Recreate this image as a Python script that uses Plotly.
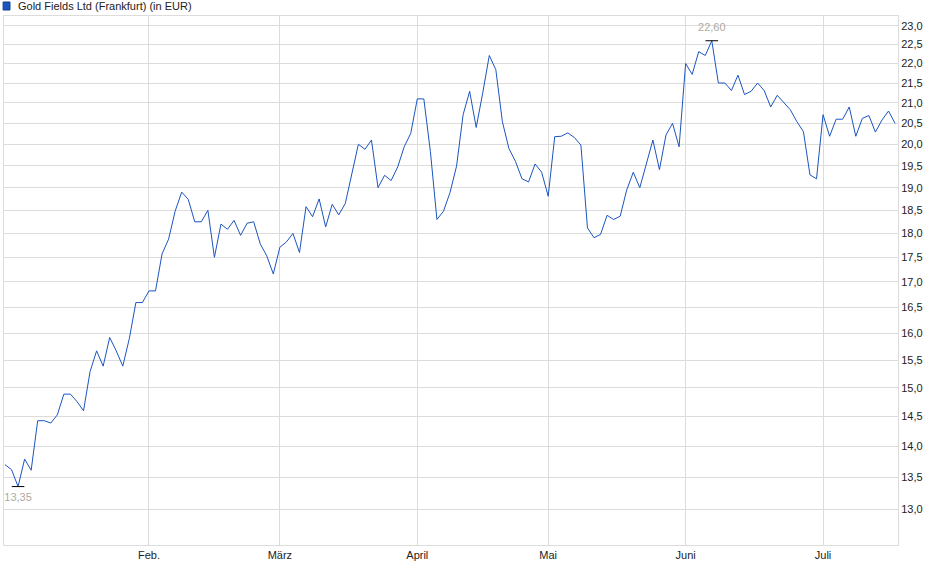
import numpy as np
import pandas as pd
import plotly.graph_objects as go

# Trading days (Frankfurt), Jan 2 - Jul 16 2025
holidays = ["2025-04-18", "2025-04-21", "2025-05-01"]
dates = [d.strftime("%Y-%m-%d") for d in
         pd.bdate_range("2025-01-02", "2025-07-16", freq="C", holidays=holidays)]

# closing prices in EUR
jan = [13.70, 13.62, 13.35, 13.79, 13.61, 14.43, 14.43, 14.39, 14.53, 14.89, 14.89,
       14.76, 14.60, 15.29, 15.67, 15.39, 15.92, 15.67, 15.39, 15.90, 16.59, 16.59]
feb = [16.82, 16.82, 17.57, 17.88, 18.48, 18.90, 18.74, 18.25, 18.25, 18.50,
       17.50, 18.20, 18.09, 18.28, 17.96, 18.22, 18.25, 17.78, 17.53, 17.16]
mar = [17.71, 17.82, 18.00, 17.60, 18.58, 18.36, 18.75, 18.14, 18.63, 18.40, 18.65,
       19.34, 20.00, 19.88, 20.10, 19.00, 19.28, 19.16, 19.47, 19.94, 20.26]
apr = [21.10, 21.10, 19.83, 18.30, 18.48, 18.89, 19.49, 20.71, 21.29, 20.40,
       21.25, 22.21, 21.84, 20.54, 19.90, 19.60, 19.20, 19.13, 19.54, 19.35]
may = [18.81, 20.18, 20.19, 20.27, 20.16, 19.98, 18.12, 17.91, 17.98, 18.39, 18.30,
       18.37, 18.95, 19.35, 19.00, 19.52, 20.10, 19.41, 20.22, 20.50, 19.94]
jun = [22.00, 21.72, 22.31, 22.21, 22.60, 21.50, 21.50, 21.31, 21.70, 21.21, 21.29,
       21.50, 21.31, 20.90, 21.19, 21.01, 20.83, 20.54, 20.30, 19.29, 19.20]
jul = [20.71, 20.19, 20.60, 20.60, 20.90, 20.19, 20.62, 20.69, 20.29, 20.58, 20.80, 20.50]
prices = jan + feb + mar + apr + may + jun + jul

month_ticks = ["2025-02-03", "2025-03-03", "2025-04-01", "2025-05-02", "2025-06-02", "2025-07-01"]
month_labels = ["Feb.", "März", "April", "Mai", "Juni", "Juli"]
y_ticks = [13.0, 13.5, 14.0, 14.5, 15.0, 15.5, 16.0, 16.5, 17.0, 17.5, 18.0,
           18.5, 19.0, 19.5, 20.0, 20.5, 21.0, 21.5, 22.0, 22.5, 23.0]

i_min = int(np.argmin(prices))
i_max = int(np.argmax(prices))

FONT = "Liberation Sans, Arial, sans-serif"
GRID = "#dcdcdc"
LINE = "#1b55c0"

fig = go.Figure()
fig.add_trace(go.Scatter(x=dates, y=prices, mode="lines",
                         line=dict(color=LINE, width=1), showlegend=False))
# low / high markers with labels
fig.add_trace(go.Scatter(x=[dates[i_min]], y=[prices[i_min]], mode="markers+text",
                         marker=dict(symbol="line-ew", size=9, line=dict(color="black", width=1)),
                         text=[f"{prices[i_min]:.2f}".replace(".", ",")],
                         textposition="bottom center",
                         textfont=dict(color="#b0aaa2", size=11, family=FONT),
                         showlegend=False))
fig.add_trace(go.Scatter(x=[dates[i_max]], y=[prices[i_max]], mode="markers+text",
                         marker=dict(symbol="line-ew", size=9, line=dict(color="black", width=1)),
                         text=[f"{prices[i_max]:.2f}".replace(".", ",")],
                         textposition="top center",
                         textfont=dict(color="#b0aaa2", size=11, family=FONT),
                         showlegend=False))

# legend-like header
fig.add_shape(type="rect", xref="paper", yref="paper",
              x0=-0.001, x1=0.0067, y0=1.0113, y1=1.0265,
              fillcolor=LINE, line=dict(color="#163f8a", width=1))
fig.add_annotation(text="Gold Fields Ltd (Frankfurt) (in EUR)", xref="paper", yref="paper",
                   x=0.0134, y=1.0189, xanchor="left", yanchor="middle", showarrow=False,
                   font=dict(size=11, color="#222", family=FONT))

fig.update_layout(
    width=940, height=579,
    margin=dict(l=4, r=42, t=16, b=34),
    paper_bgcolor="white", plot_bgcolor="white",
    separators=",.",
    font=dict(family=FONT, size=11, color="#222"),
    xaxis=dict(type="category", range=[-0.15, len(dates) - 0.55],
               tickmode="array", tickvals=month_ticks, ticktext=month_labels,
               showgrid=True, gridcolor=GRID, gridwidth=1,
               showline=True, linecolor=GRID, mirror=True, ticks="", zeroline=False),
    yaxis=dict(type="log", side="right", range=[np.log10(12.46), np.log10(23.27)],
               tickmode="array", tickvals=y_ticks, tickformat=".1f",
               showgrid=True, gridcolor=GRID, gridwidth=1,
               showline=True, linecolor=GRID, mirror=True, ticks="", zeroline=False),
)

# page body margin would shift the chart by 8px
fig.write_html("out.html", config={"displayModeBar": False},
               post_script="document.body.style.margin='0';")
